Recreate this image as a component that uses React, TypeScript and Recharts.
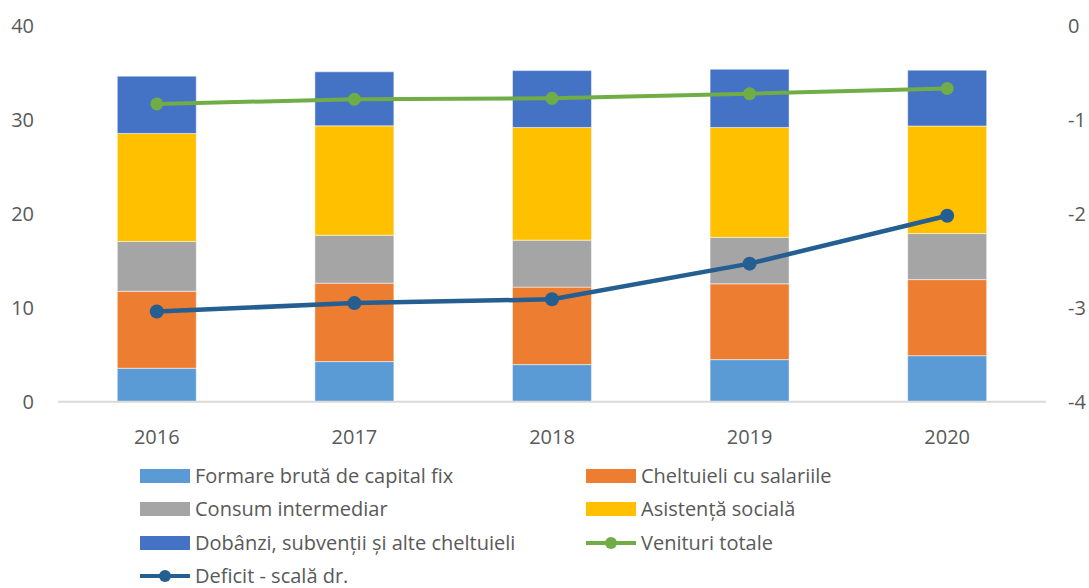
import { Bar, ComposedChart, Line, XAxis, YAxis } from "recharts";

const years = ["2016", "2017", "2018", "2019", "2020"];
const formareCapital = [3.56, 4.27, 3.95, 4.48, 4.9];
const salarii = [8.2, 8.35, 8.25, 8.07, 8.1];
const consumIntermediar = [5.3, 5.1, 5.0, 4.95, 4.9];
const asistentaSociala = [11.5, 11.65, 12.0, 11.7, 11.45];
const dobanzi = [6.1, 5.75, 6.05, 6.2, 5.95];
const venituriTotale = [31.7, 32.2, 32.3, 32.8, 33.35];
const deficit = [-3.04, -2.95, -2.91, -2.53, -2.02];

const leftTicks = [0, 10, 20, 30, 40];
const rightTicks = [-4, -3, -2, -1, 0];

const data = years.map((year, i) => ({
    year,
    formare: formareCapital[i],
    salarii: salarii[i],
    consum: consumIntermediar[i],
    asistenta: asistentaSociala[i],
    dobanzi: dobanzi[i],
    venituri: venituriTotale[i],
    deficit: deficit[i],
}));

const FONT = "'Open Sans', sans-serif";
const TEXT = "#595959";

type LegendItem = { label: string; color: string; kind: "bar" | "line" };

const legendItems: LegendItem[] = [
    { label: "Formare brută de capital fix", color: "#5B9BD5", kind: "bar" },
    { label: "Cheltuieli cu salariile", color: "#ED7D31", kind: "bar" },
    { label: "Consum intermediar", color: "#A5A5A5", kind: "bar" },
    { label: "Asistență socială", color: "#FFC000", kind: "bar" },
    { label: "Dobânzi, subvenții și alte cheltuieli", color: "#4472C4", kind: "bar" },
    { label: "Venituri totale", color: "#70AD47", kind: "line" },
    { label: "Deficit - scală dr.", color: "#255E91", kind: "line" },
];

function LegendIcon({ item }: { item: LegendItem }) {
    if (item.kind === "bar") {
        return <div style={{ width: 50, height: 14, background: item.color }} />;
    }
    return (
        <svg width={50} height={16}>
            <line x1={0} y1={8} x2={50} y2={8} stroke={item.color} strokeWidth={4} />
            <circle cx={25} cy={8} r={6} fill={item.color} />
        </svg>
    );
}

// legend sits under the plot, two columns like the original
function ChartLegend() {
    return (
        <div style={{ position: "absolute", left: 140, top: 466, fontFamily: FONT, fontSize: 20, color: TEXT }}>
            {legendItems.map((item, i) => (
                <div
                    key={item.label}
                    style={{
                        position: "absolute",
                        left: i % 2 === 0 ? 0 : 446,
                        top: Math.floor(i / 2) * 33.3,
                        display: "flex",
                        alignItems: "center",
                        height: 20,
                        whiteSpace: "nowrap",
                    }}
                >
                    <LegendIcon item={item} />
                    <span style={{ marginLeft: 5, lineHeight: "20px" }}>{item.label}</span>
                </div>
            ))}
        </div>
    );
}

export default function App() {
    const tick = { fill: TEXT, fontSize: 20, fontFamily: FONT };
    return (
        <>
            <style>{"body { margin: 0; }"}</style>
            <div style={{ position: "relative", width: 1089, height: 588, overflow: "hidden" }}>
                <ComposedChart
                    width={1089}
                    height={468}
                    data={data}
                    barCategoryGap="30%"
                    margin={{ top: 26, right: 0, left: 0, bottom: 0 }}
                >
                    <XAxis
                        dataKey="year"
                        height={66.3}
                        tick={tick}
                        tickLine={false}
                        tickSize={0}
                        tickMargin={28}
                        axisLine={{ stroke: "#D9D9D9", strokeWidth: 2 }}
                    />
                    <YAxis
                        yAxisId="left"
                        width={58}
                        domain={[0, 40]}
                        ticks={leftTicks}
                        tick={tick}
                        tickLine={false}
                        tickSize={0}
                        tickMargin={24}
                        axisLine={false}
                    />
                    <YAxis
                        yAxisId="right"
                        orientation="right"
                        width={43}
                        domain={[-4, 0]}
                        ticks={rightTicks}
                        tick={tick}
                        tickLine={false}
                        tickSize={0}
                        tickMargin={22}
                        axisLine={false}
                    />
                    <Bar yAxisId="left" dataKey="formare" stackId="a" fill="#5B9BD5" stroke="#fff" strokeWidth={0.5} isAnimationActive={false} />
                    <Bar yAxisId="left" dataKey="salarii" stackId="a" fill="#ED7D31" stroke="#fff" strokeWidth={0.5} isAnimationActive={false} />
                    <Bar yAxisId="left" dataKey="consum" stackId="a" fill="#A5A5A5" stroke="#fff" strokeWidth={0.5} isAnimationActive={false} />
                    <Bar yAxisId="left" dataKey="asistenta" stackId="a" fill="#FFC000" stroke="#fff" strokeWidth={0.5} isAnimationActive={false} />
                    <Bar yAxisId="left" dataKey="dobanzi" stackId="a" fill="#4472C4" stroke="#fff" strokeWidth={0.5} isAnimationActive={false} />
                    <Line
                        yAxisId="left"
                        dataKey="venituri"
                        stroke="#70AD47"
                        strokeWidth={4}
                        dot={{ r: 6.5, fill: "#70AD47", stroke: "#70AD47", strokeWidth: 0 }}
                        isAnimationActive={false}
                    />
                    <Line
                        yAxisId="right"
                        dataKey="deficit"
                        stroke="#255E91"
                        strokeWidth={4.5}
                        dot={{ r: 7, fill: "#255E91", stroke: "#255E91", strokeWidth: 0 }}
                        isAnimationActive={false}
                    />
                </ComposedChart>
                <ChartLegend />
            </div>
        </>
    );
}
